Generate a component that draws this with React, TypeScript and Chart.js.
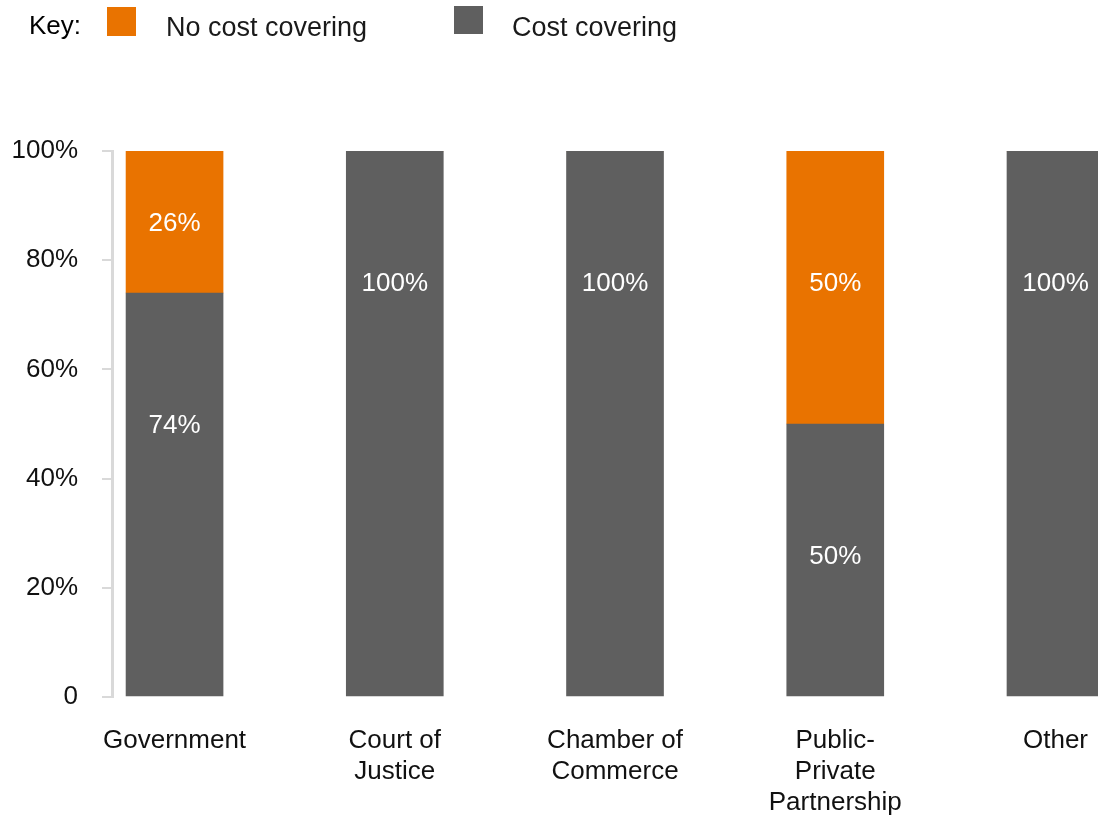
import React, { useEffect, useRef } from 'react';
import { Chart, registerables } from 'chart.js';

Chart.register(...registerables);

// ---- Data ----
const categories: string[][] = [
  ['Government'],
  ['Court of', 'Justice'],
  ['Chamber of', 'Commerce'],
  ['Public-', 'Private', 'Partnership'],
  ['Other'],
];
const costCovering = [74, 100, 100, 50, 100];
const noCostCovering = [26, 0, 0, 50, 0];
const yTickValues = [0, 20, 40, 60, 80, 100];
const legendKey = 'Key:';
const legendNoCost = 'No cost covering';
const legendCost = 'Cost covering';

const ORANGE = '#E97300';
const GRAY = '#5F5F5F';
const FONT = "'Liberation Sans', Arial, Helvetica, sans-serif";

const valueLabelPlugin = {
  id: 'valueLabels',
  afterDatasetsDraw(chart: any) {
    const { ctx } = chart;
    const yScale = chart.scales.y;
    const series = [costCovering, noCostCovering];
    ctx.save();
    ctx.fillStyle = '#ffffff';
    ctx.font = `26px ${FONT}`;
    ctx.textAlign = 'center';
    ctx.textBaseline = 'middle';
    series.forEach((vals, di) => {
      const meta = chart.getDatasetMeta(di);
      vals.forEach((v, i) => {
        if (!v) return;
        const base = di === 0 ? 0 : costCovering[i];
        const top = base + v;
        const labelVal = top - Math.min(v / 2, 24);
        const el = meta.data[i];
        const py = yScale.getPixelForValue(labelVal);
        ctx.fillText(`${v}%`, el.x, py + 2);
      });
    });
    ctx.restore();
  },
};

export default function App() {
  const canvasRef = useRef<HTMLCanvasElement | null>(null);

  useEffect(() => {
    if (!canvasRef.current) return;
    const chart = new Chart(canvasRef.current, {
      type: 'bar',
      data: {
        datasets: [
          {
            label: legendCost,
            data: costCovering.map((v, i) => ({ x: i, y: v })),
            backgroundColor: GRAY,
            borderWidth: 0,
            barThickness: 97,
          },
          {
            label: legendNoCost,
            data: noCostCovering.map((v, i) => ({ x: i, y: v })),
            backgroundColor: ORANGE,
            borderWidth: 0,
            barThickness: 97,
          },
        ],
      },
      options: {
        animation: false,
        responsive: false,
        maintainAspectRatio: false,
        layout: { padding: { top: 151, left: 12, right: 0, bottom: 0 } },
        plugins: {
          legend: { display: false },
          tooltip: { enabled: false },
          title: { display: false },
        },
        scales: {
          x: {
            type: 'linear',
            stacked: true,
            offset: false,
            min: -0.284,
            max: 4.193,
            afterFit: (scale: any) => {
              scale.height = 122;
              scale.paddingLeft = 0;
              scale.paddingRight = 0;
            },
            grid: { display: false, drawTicks: false },
            border: { display: false },
            ticks: {
              stepSize: 1,
              includeBounds: false,
              autoSkip: false,
              maxRotation: 0,
              minRotation: 0,
              padding: 28,
              color: '#111111',
              font: { family: FONT, size: 26, lineHeight: 1.2 },
              callback: (v: any) => {
                const n = Number(v);
                return Number.isInteger(n) && categories[n] ? categories[n] : '';
              },
            },
          },
          y: {
            stacked: true,
            min: 0,
            max: 100,
            afterFit: (scale: any) => {
              scale.width = 100;
            },
            afterBuildTicks: (scale: any) => {
              scale.ticks = yTickValues.map((value) => ({ value }));
            },
            grid: {
              display: true,
              drawOnChartArea: false,
              drawTicks: true,
              tickLength: 10,
              color: '#d9d9d9',
              lineWidth: 2,
            },
            border: { display: true, color: '#d9d9d9', width: 3 },
            ticks: {
              padding: 24,
              color: '#111111',
              font: { family: FONT, size: 26 },
              callback: (v: any) => (Number(v) === 0 ? '0' : `${v}%`),
            },
          },
        },
      },
      plugins: [valueLabelPlugin],
    });
    return () => chart.destroy();
  }, []);

  const textStyle: React.CSSProperties = {
    position: 'absolute',
    fontFamily: FONT,
    whiteSpace: 'nowrap',
  };

  return (
    <div
      style={{
        position: 'fixed',
        left: 0,
        top: 0,
        width: 1098,
        height: 819,
        overflow: 'hidden',
        background: '#ffffff',
      }}
    >
      <canvas
        ref={canvasRef}
        width={1098}
        height={819}
        style={{ position: 'absolute', left: 0, top: 0, width: 1098, height: 819 }}
      />
      <div style={{ ...textStyle, left: 29, top: 12, fontSize: 26, lineHeight: '26px', color: '#000' }}>
        {legendKey}
      </div>
      <div style={{ position: 'absolute', left: 107, top: 7, width: 29, height: 29, background: ORANGE }} />
      <div style={{ ...textStyle, left: 166, top: 14, fontSize: 27, lineHeight: '27px', color: '#1a1a1a' }}>
        {legendNoCost}
      </div>
      <div style={{ position: 'absolute', left: 454, top: 6, width: 29, height: 28, background: GRAY }} />
      <div style={{ ...textStyle, left: 512, top: 14, fontSize: 27, lineHeight: '27px', color: '#1a1a1a' }}>
        {legendCost}
      </div>
    </div>
  );
}
